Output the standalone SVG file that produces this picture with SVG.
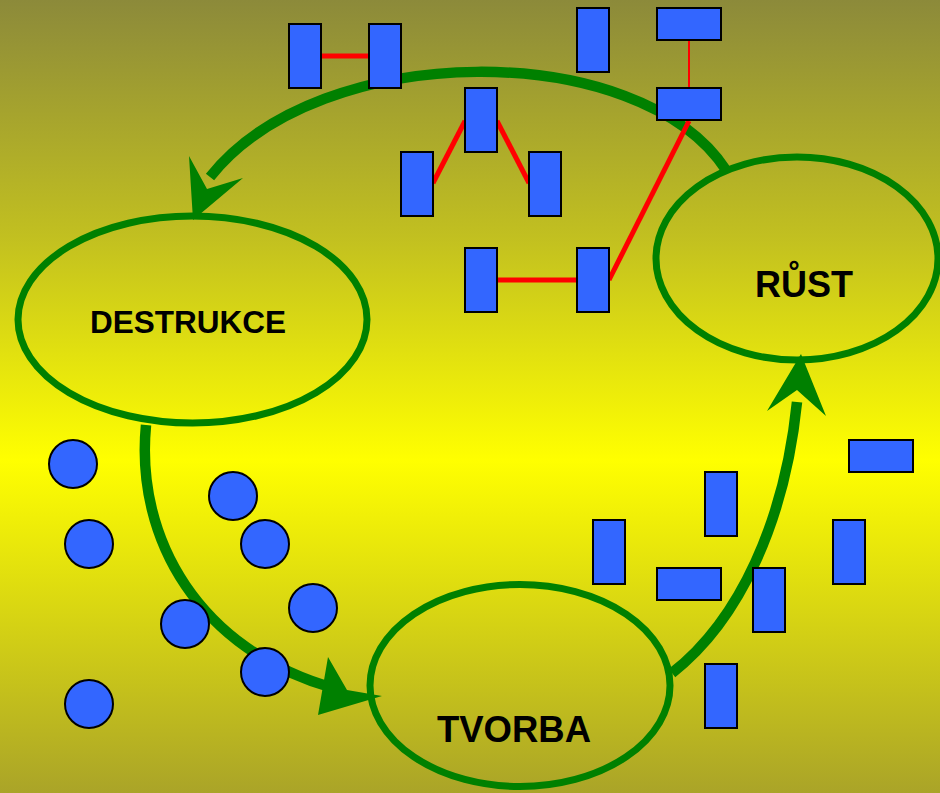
<svg xmlns="http://www.w3.org/2000/svg" width="940" height="793" viewBox="0 0 940 793">
<defs>
<linearGradient id="bg" x1="0" y1="0" x2="0" y2="1">
<stop offset="0" stop-color="#8c8a3a"/>
<stop offset="0.3" stop-color="#c2c020"/>
<stop offset="0.58" stop-color="#ffff00"/>
<stop offset="1" stop-color="#aaa428"/>
</linearGradient>
<style>
.ell{fill:none;stroke:#008000;stroke-width:7}
.arc{fill:none;stroke:#008000;stroke-width:10.5}
.head{fill:#008000}
.bond{stroke:#ff0000;stroke-width:5;fill:none}
.thin{stroke:#ff0000;stroke-width:2;fill:none}
.blk{fill:#3366ff;stroke:#000;stroke-width:2}
.lbl{font-family:"Liberation Sans",Arial,sans-serif;font-weight:bold;fill:#000;text-anchor:middle}
</style>
</defs>
<rect x="0" y="0" width="940" height="793" fill="url(#bg)"/>

<g id="connectors">
<path class="arc" d="M726,170 C640,38 320,38 210,177"/>
<polygon class="head" points="189,156 207,189 243,178 193,220"/>
<path class="arc" d="M146,425 C135,540 200,650 333,688"/>
<polygon class="head" points="328,657 347,690 382,696 318,715"/>
<path class="arc" d="M672,673 C740,620 785,520 797,402"/>
<polygon class="head" points="767,411 797,390 826,416 801,354"/>
</g>

<g id="destrukce">
<ellipse class="ell" cx="192.5" cy="319.5" rx="174.5" ry="103.5"/>
<text class="lbl" x="188" y="333" font-size="31.5">DESTRUKCE</text>
</g>
<g id="rust">
<ellipse class="ell" cx="797" cy="258.5" rx="141" ry="101.5"/>
<text class="lbl" x="804" y="297" font-size="36">RŮST</text>
</g>
<g id="tvorba">
<ellipse class="ell" cx="520" cy="685.5" rx="150" ry="101"/>
<text class="lbl" x="514" y="742" font-size="36.5">TVORBA</text>
</g>

<g id="bonds">
<line class="bond" x1="321" y1="56" x2="369" y2="56"/>
<line class="bond" x1="433" y1="183" x2="465" y2="121"/>
<line class="bond" x1="497" y1="121" x2="529" y2="183"/>
<line class="bond" x1="497" y1="280" x2="577" y2="280"/>
<line class="bond" x1="609" y1="280" x2="689" y2="121"/>
<line class="thin" x1="689" y1="40" x2="689" y2="88"/>
</g>

<g id="blocks">
<rect class="blk" x="289" y="24" width="32" height="64"/>
<rect class="blk" x="369" y="24" width="32" height="64"/>
<rect class="blk" x="577" y="8" width="32" height="64"/>
<rect class="blk" x="657" y="8" width="64" height="32"/>
<rect class="blk" x="657" y="88" width="64" height="32"/>
<rect class="blk" x="465" y="88" width="32" height="64"/>
<rect class="blk" x="401" y="152" width="32" height="64"/>
<rect class="blk" x="529" y="152" width="32" height="64"/>
<rect class="blk" x="465" y="248" width="32" height="64"/>
<rect class="blk" x="577" y="248" width="32" height="64"/>
<rect class="blk" x="593" y="520" width="32" height="64"/>
<rect class="blk" x="705" y="472" width="32" height="64"/>
<rect class="blk" x="657" y="568" width="64" height="32"/>
<rect class="blk" x="753" y="568" width="32" height="64"/>
<rect class="blk" x="833" y="520" width="32" height="64"/>
<rect class="blk" x="849" y="440" width="64" height="32"/>
<rect class="blk" x="705" y="664" width="32" height="64"/>
</g>

<g id="particles">
<circle class="blk" cx="73" cy="464" r="24"/>
<circle class="blk" cx="89" cy="544" r="24"/>
<circle class="blk" cx="233" cy="496" r="24"/>
<circle class="blk" cx="265" cy="544" r="24"/>
<circle class="blk" cx="313" cy="608" r="24"/>
<circle class="blk" cx="185" cy="624" r="24"/>
<circle class="blk" cx="265" cy="672" r="24"/>
<circle class="blk" cx="89" cy="704" r="24"/>
</g>
</svg>
